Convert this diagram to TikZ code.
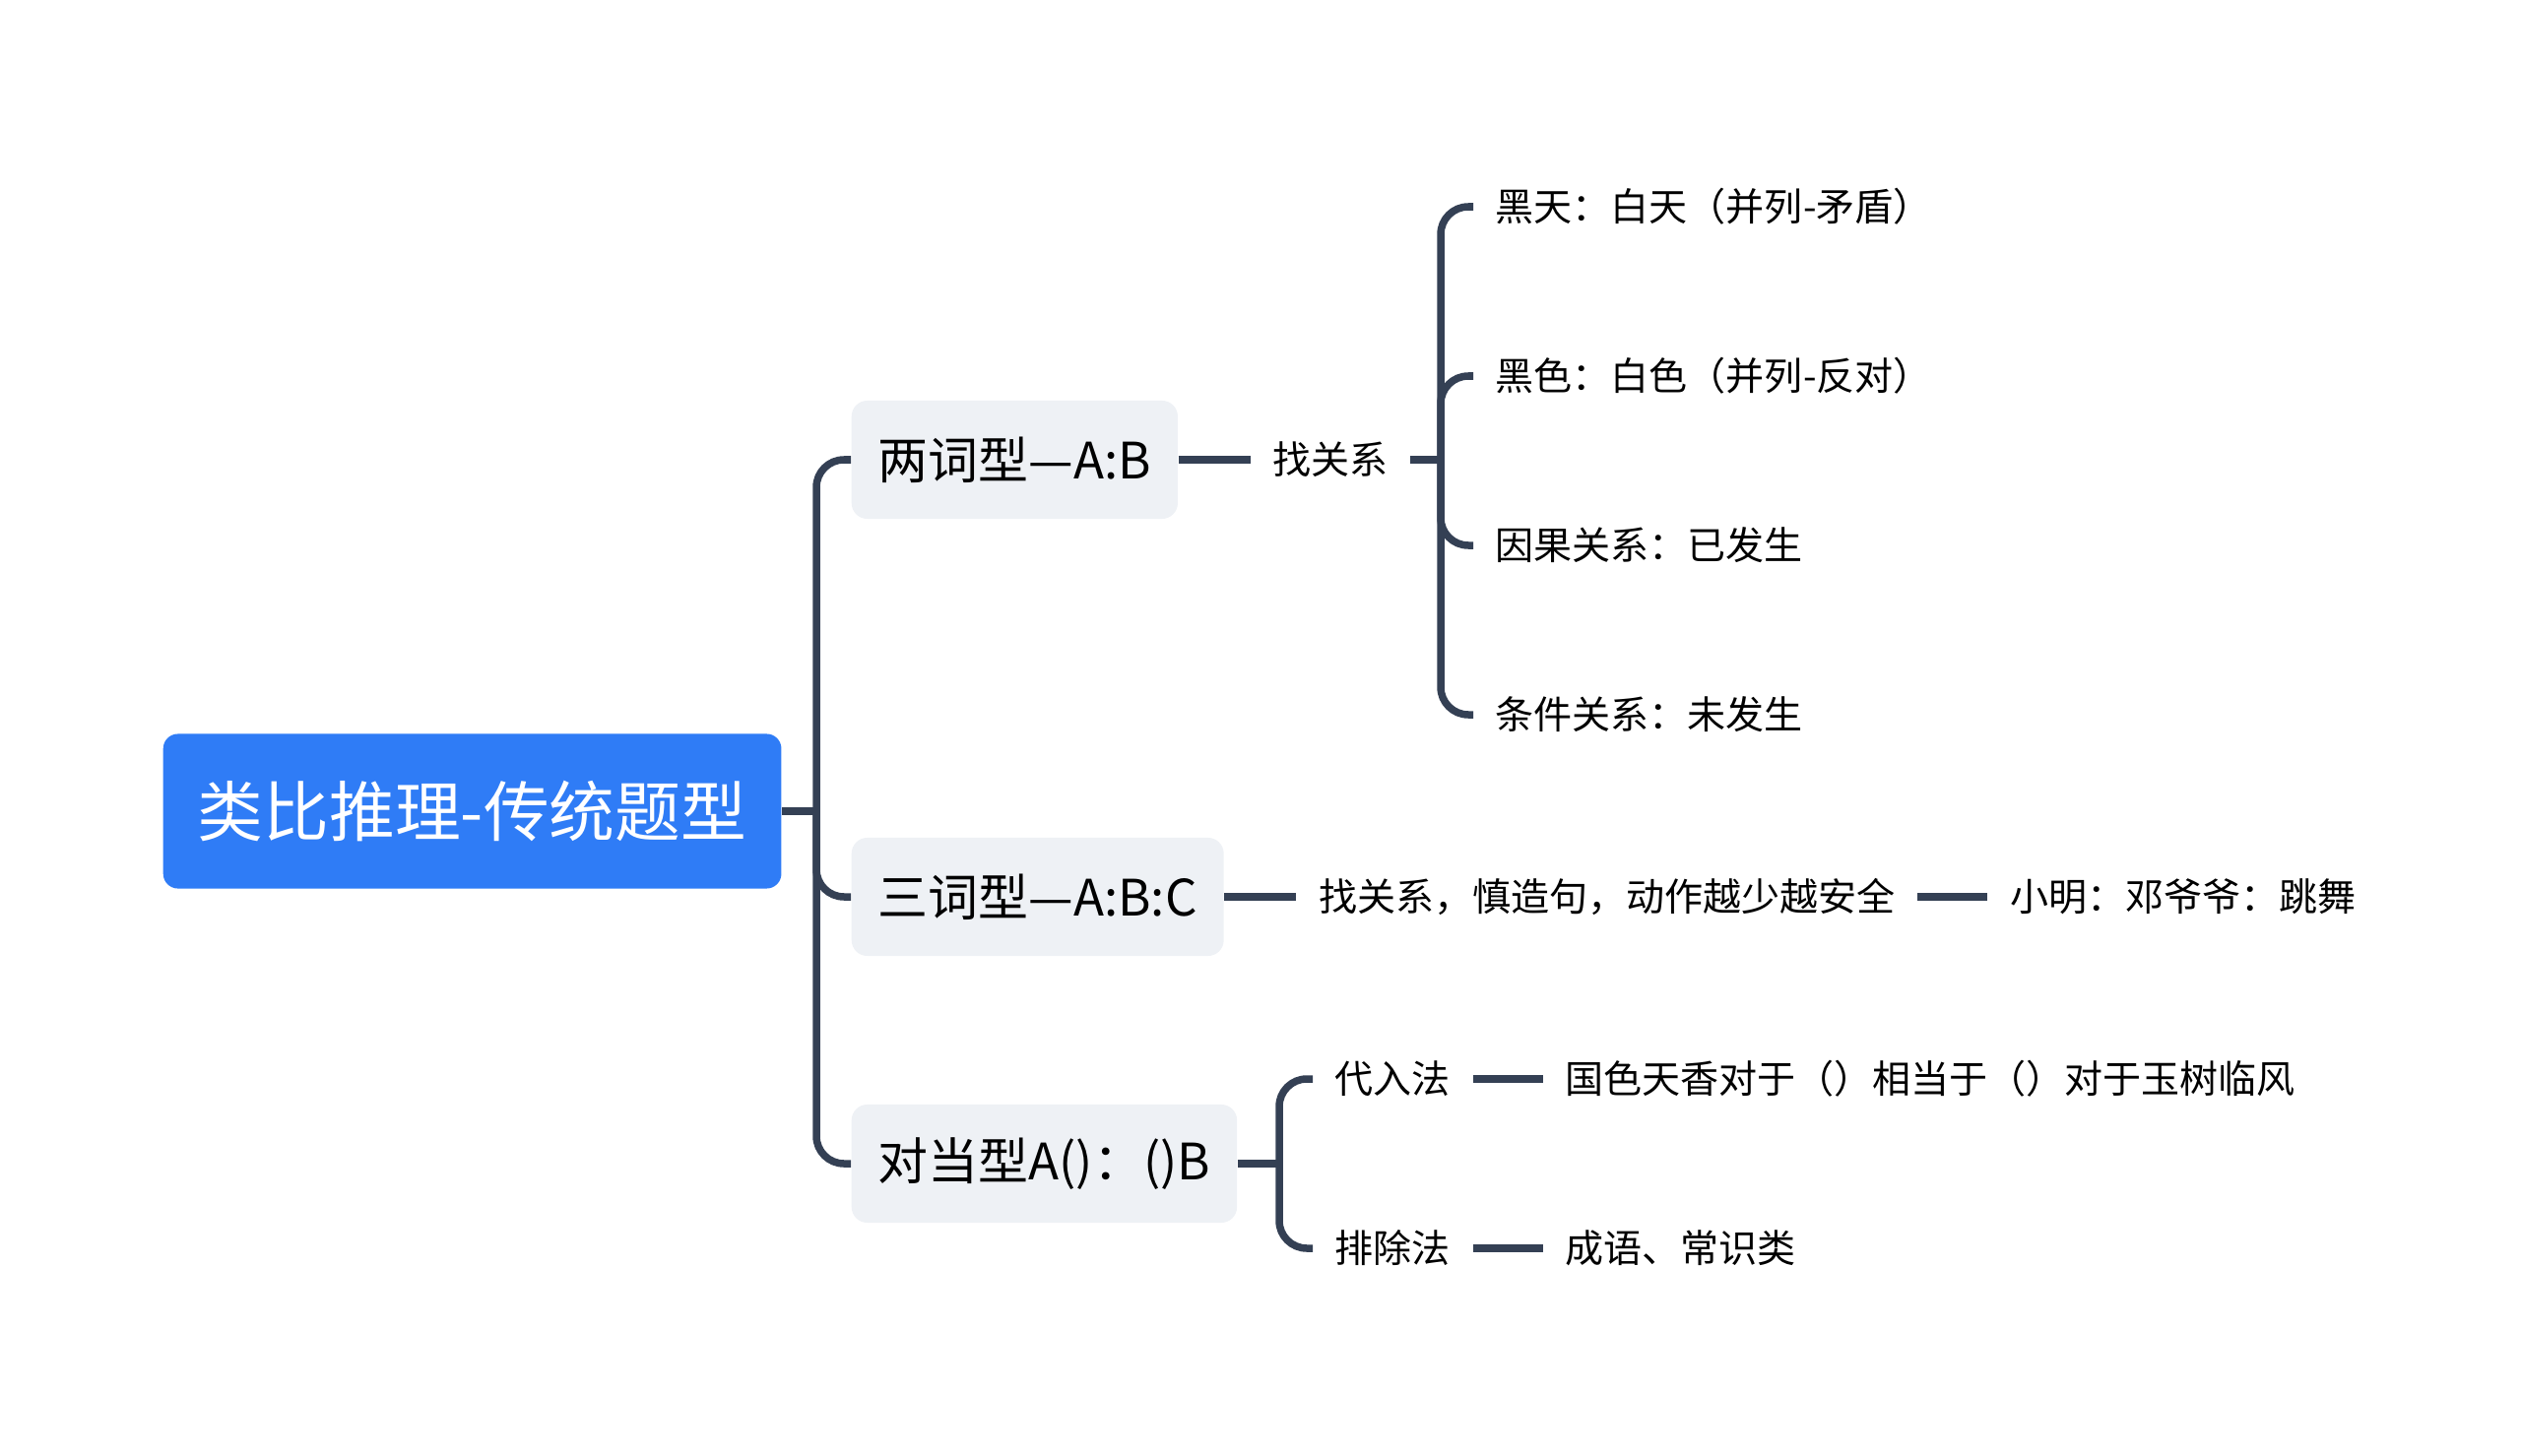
\documentclass[tikz,border=0pt]{standalone}
\usepackage{fontspec}
\usetikzlibrary{positioning,calc}
\newfontfamily\cjkfont{Noto Sans CJK SC}
\definecolor{mmBlue}{RGB}{47,124,246}
\definecolor{mmLine}{RGB}{52,64,84}
\definecolor{mmPale}{RGB}{238,241,245}

\begin{document}
\begin{tikzpicture}[x=0.01cm, y=-0.01cm,
  rootbox/.style={fill=mmBlue, text=white, rounded corners=0.15cm, inner xsep=0.35cm, minimum height=1.57cm, font=\cjkfont\fontsize{19}{22}\selectfont},
  topicbox/.style={fill=mmPale, text=black, rounded corners=0.16cm, inner xsep=0.27cm, minimum height=1.2cm, font=\cjkfont\fontsize{14.5}{17}\selectfont},
  leaf/.style={inner xsep=0.22cm, inner ysep=0.05cm, text=black, font=\cjkfont\fontsize{11.1}{14}\selectfont},
  link/.style={mmLine, line width=0.075cm, rounded corners=0.28cm}]
  \useasboundingbox (0,0) rectangle (2560,1479);

  % root and the three question types
  \node[rootbox, anchor=west] (root) at (165,824) {类比推理-传统题型};
  \node[topicbox, anchor=west] (two) at (864,467) {两词型—A:B};
  \node[topicbox, anchor=west] (three) at (864,911) {三词型—A:B:C};
  \node[topicbox, anchor=west] (pair) at (864,1182) {对当型A()：()B};

  % two words
  \node[leaf, right=0.73cm of two] (rel) {找关系};
  \node[leaf, anchor=west] (k1) at (1496,210) {黑天：白天（并列-矛盾）};
  \node[leaf, anchor=west] (k2) at (1496,382) {黑色：白色（并列-反对）};
  \node[leaf, anchor=west] (k3) at (1496,554) {因果关系：已发生};
  \node[leaf, anchor=west] (k4) at (1496,726) {条件关系：未发生};

  % three words
  \node[leaf, right=0.73cm of three] (rule) {找关系，慎造句，动作越少越安全};
  \node[leaf, right=0.71cm of rule] (case) {小明：邓爷爷：跳舞};

  % pairs
  \node[leaf, anchor=west] (sub) at (1333,1096) {代入法};
  \node[leaf, anchor=west] (excl) at (1333,1268) {排除法};
  \node[leaf, right=0.71cm of sub] (subex) {国色天香对于（）相当于（）对于玉树临风};
  \node[leaf, right=0.71cm of excl] (exclex) {成语、常识类};

  % connectors
  \coordinate (jroot) at (829,824);
  \coordinate (jrel) at (1463,467);
  \coordinate (jpair) at (1299,1182);
  \draw[link] (root.east) -- (jroot);
  \foreach \t in {two,three,pair}
    \draw[link] (jroot) |- (\t.west);
  \draw[link] (two.east) -- (rel.west);
  \draw[link] (rel.east) -- (jrel);
  \foreach \k in {k1,k2,k3,k4}
    \draw[link] (jrel) |- (\k.west);
  \draw[link] (three.east) -- (rule.west);
  \draw[link] (rule.east) -- (case.west);
  \draw[link] (pair.east) -- (jpair);
  \draw[link] (jpair) |- (sub.west);
  \draw[link] (jpair) |- (excl.west);
  \draw[link] (sub.east) -- (subex.west);
  \draw[link] (excl.east) -- (exclex.west);
\end{tikzpicture}
\end{document}
